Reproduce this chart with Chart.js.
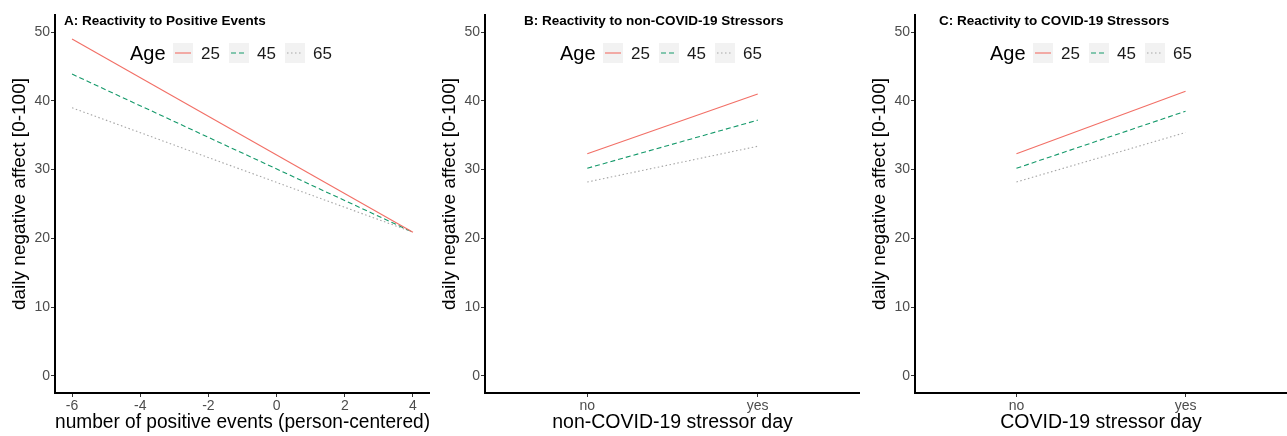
<!DOCTYPE html>
<html>
<head>
<meta charset="utf-8">
<script src="https://cdn.jsdelivr.net/npm/chart.js@4/dist/chart.umd.min.js"></script>
<style>
body { margin: 0; background: #fff; }
#wrap { position: relative; width: 1287px; height: 436px; }
#wrap canvas { position: absolute; top: 0; }
</style>
</head>
<body>
<div id="wrap">
  <canvas id="panelA" width="430" height="436" style="left:0"></canvas>
  <canvas id="panelB" width="430" height="436" style="left:430px"></canvas>
  <canvas id="panelC" width="427" height="436" style="left:860px"></canvas>
</div>
<script>
// values
var ages = ['25', '45', '65'];
var yTicks = [0, 10, 20, 30, 40, 50];

// panel A: number of positive events (person-centered)
var posEvents = [-6, 4];
var posTicks = [-6, -4, -2, 0, 2, 4];
var posAge25 = [49.0, 20.9];
var posAge45 = [43.9, 20.9];
var posAge65 = [39.0, 20.9];

// panels B and C: stressor day
var stressorDay = ['no', 'yes'];
var nonCovidAge25 = [32.3, 41.0];
var nonCovidAge45 = [30.2, 37.2];
var nonCovidAge65 = [28.2, 33.4];
var covidAge25 = [32.3, 41.4];
var covidAge45 = [30.2, 38.5];
var covidAge65 = [28.2, 35.4];

var ageColors = ['#f26f66', '#14996a', '#a6a6a6'];
var ageDash = [[], [5, 3], [1.5, 2.5]];
var FONT = '"Liberation Sans", Arial, sans-serif';

function makeSeries(xs, series) {
  return series.map(function(vals, i) {
    return {
      label: ages[i],
      data: vals.map(function(v, j) { return { x: xs[j], y: v }; }),
      borderColor: ageColors[i],
      borderDash: ageDash[i],
      borderWidth: 1.1,
      pointRadius: 0,
      fill: false
    };
  });
}

// panel title, y axis title and the "Age" legend
var panelDeco = {
  id: 'panelDeco',
  afterDraw: function(chart) {
    var ctx = chart.ctx;
    var area = chart.chartArea;
    var o = chart.options.plugins.panelDeco;
    ctx.save();
    ctx.textBaseline = 'middle';
    ctx.textAlign = 'left';
    ctx.fillStyle = '#000';
    ctx.font = 'bold 13.5px ' + FONT;
    ctx.fillText(o.title, area.left + o.titleOffset, 21);

    // y axis title, rotated
    ctx.save();
    ctx.translate(20, 194);
    ctx.rotate(-Math.PI / 2);
    ctx.textAlign = 'center';
    ctx.font = '19px ' + FONT;
    ctx.fillText('daily negative affect [0-100]', 0, 0);
    ctx.restore();

    var ly = 53;
    ctx.font = '20px ' + FONT;
    ctx.fillStyle = '#000';
    ctx.fillText('Age', area.left + 75, ly + 1);
    chart.data.datasets.forEach(function(ds, i) {
      var x0 = area.left + 118 + i * 56;
      ctx.fillStyle = '#f2f2f2';
      ctx.fillRect(x0, ly - 10, 20, 20);
      ctx.strokeStyle = ds.borderColor;
      ctx.lineWidth = 1.1;
      ctx.setLineDash(ds.borderDash);
      ctx.beginPath();
      ctx.moveTo(x0 + 2, ly);
      ctx.lineTo(x0 + 18, ly);
      ctx.stroke();
      ctx.setLineDash([]);
      ctx.fillStyle = '#1a1a1a';
      ctx.font = '17px ' + FONT;
      ctx.fillText(ds.label, x0 + 28, ly + 1);
    });
    ctx.restore();
  }
};

function makeChart(canvasId, datasets, xOpts, title, titleOffset) {
  var tickFont = { family: FONT, size: 14 };
  var ctx = document.getElementById(canvasId).getContext('2d');
  return new Chart(ctx, {
    type: 'line',
    data: { datasets: datasets },
    plugins: [panelDeco],
    options: {
      responsive: false,
      animation: false,
      layout: { padding: { top: 15, right: 0, left: 0, bottom: 0 } },
      plugins: {
        legend: { display: false },
        tooltip: { enabled: false },
        panelDeco: { title: title, titleOffset: titleOffset }
      },
      scales: {
        x: {
          type: 'linear',
          min: xOpts.min,
          max: xOpts.max,
          afterBuildTicks: function(scale) {
            scale.ticks = xOpts.ticks.map(function(v) { return { value: v }; });
          },
          afterFit: function(scale) { scale.height = 43; },
          ticks: {
            font: tickFont,
            color: '#4d4d4d',
            padding: 1,
            maxRotation: 0,
            autoSkip: false,
            callback: xOpts.label
          },
          grid: { drawOnChartArea: false, drawTicks: true, tickLength: 4, color: '#333' },
          border: { display: true, color: '#000', width: 2 },
          title: {
            display: true,
            text: xOpts.title,
            font: { family: FONT, size: 19.5 },
            color: '#000',
            padding: { top: 0, bottom: 2 }
          }
        },
        y: {
          type: 'linear',
          min: -2.5,
          max: 52.5,
          afterBuildTicks: function(scale) {
            scale.ticks = yTicks.map(function(v) { return { value: v }; });
          },
          afterFit: function(scale) { scale.width = 55; },
          ticks: { font: tickFont, color: '#4d4d4d', padding: 1 },
          grid: { drawOnChartArea: false, drawTicks: true, tickLength: 4, color: '#333' },
          border: { display: true, color: '#000', width: 2 },
          title: { display: false }
        }
      }
    }
  });
}

makeChart('panelA',
  makeSeries(posEvents, [posAge25, posAge45, posAge65]),
  { min: -6.5, max: 4.5, ticks: posTicks, title: 'number of positive events (person-centered)',
    label: function(v) { return String(v); } },
  'A: Reactivity to Positive Events', 9);

makeChart('panelB',
  makeSeries([1, 2], [nonCovidAge25, nonCovidAge45, nonCovidAge65]),
  { min: 0.4, max: 2.6, ticks: [1, 2], title: 'non-COVID-19 stressor day',
    label: function(v) { return stressorDay[v - 1]; } },
  'B: Reactivity to non-COVID-19 Stressors', 39);

makeChart('panelC',
  makeSeries([1, 2], [covidAge25, covidAge45, covidAge65]),
  { min: 0.4, max: 2.6, ticks: [1, 2], title: 'COVID-19 stressor day',
    label: function(v) { return stressorDay[v - 1]; } },
  'C: Reactivity to COVID-19 Stressors', 24);
</script>
</body>
</html>
